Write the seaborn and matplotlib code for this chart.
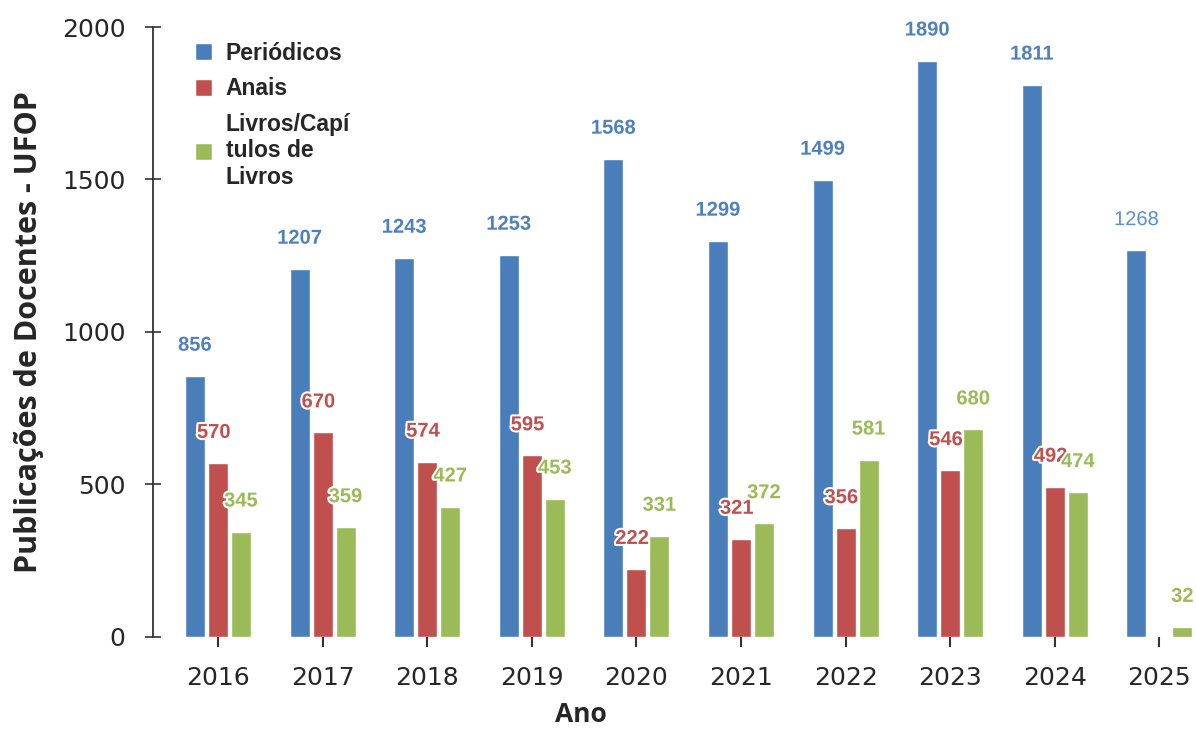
import numpy as np
import pandas as pd
import matplotlib.pyplot as plt
import matplotlib.patheffects as pe
import seaborn as sns

anos = ['2016', '2017', '2018', '2019', '2020', '2021', '2022', '2023', '2024', '2025']
periodicos = [856, 1207, 1243, 1253, 1568, 1299, 1499, 1890, 1811, 1268]
anais = [570, 670, 574, 595, 222, 321, 356, 546, 492, 0]
livros = [345, 359, 427, 453, 331, 372, 581, 680, 474, 32]

series = ['Periódicos', 'Anais', 'Livros/Capítulos de Livros']
legenda = ['Periódicos', 'Anais', 'Livros/Capí\ntulos de\nLivros']
cores = ['#4a7ebb', '#c0504d', '#9bbb59']
cores_txt = ['#4f81bd', '#c0504d', '#9bbb59']

df = pd.DataFrame({
    'Ano': anos * 3,
    'Tipo': [series[0]] * 10 + [series[1]] * 10 + [series[2]] * 10,
    'Valor': periodicos + anais + livros,
})

sns.set_style('white')
plt.rcParams['font.family'] = ['Liberation Sans', 'DejaVu Sans']

fig = plt.figure(figsize=(11.96, 7.31), dpi=100)
ax = fig.add_axes([0.128, 0.129, 0.872, 0.834])

sns.barplot(data=df, x='Ano', y='Valor', hue='Tipo', hue_order=series,
            palette=cores, saturation=1, width=0.66, gap=0.13, ax=ax, legend=True)

# rótulos de valor acima das barras
for i, cont in enumerate(ax.containers):
    for j, bar in enumerate(cont):
        v = bar.get_height()
        if v == 0:
            continue
        cx = bar.get_x() + bar.get_width() / 2
        peso = 'bold'
        cor = cores_txt[i]
        dx = -3 if i == 1 else 0
        if i == 0 and anos[j] == '2025':
            peso = 'normal'
            cor = '#5b8fcc'
        ax.annotate(str(int(v)), (cx, v), xytext=(dx, 22), textcoords='offset points',
                    ha='center', va='center', fontsize=14.5, fontweight=peso, color=cor,
                    path_effects=[pe.withStroke(linewidth=3, foreground='white')],
                    zorder=5, annotation_clip=False)

ax.set_ylim(0, 2000)
ax.set_xlim(-0.62, 9.35)
ax.set_yticks([0, 500, 1000, 1500, 2000])

for s in ['top', 'right', 'bottom']:
    ax.spines[s].set_visible(False)
ax.spines['left'].set_color('#333333')
ax.spines['left'].set_linewidth(1.3)

ax.tick_params(axis='y', direction='inout', length=12, width=1.2, color='#333333',
               labelsize=18, pad=14, left=True)
ax.tick_params(axis='x', direction='out', length=7, width=1.5, color='#333333',
               labelsize=18, pad=14, bottom=True)
for lab in ax.get_yticklabels() + ax.get_xticklabels():
    lab.set_family(['DejaVu Sans'])

ax.set_xlabel('Ano', fontsize=19, fontweight='bold', family=['Open Sans', 'DejaVu Sans'])
ax.set_ylabel('Publicações de Docentes - UFOP', fontsize=22, fontweight='bold',
              family=['Open Sans', 'DejaVu Sans'])
ax.xaxis.set_label_coords(0.41, -0.105)
ax.yaxis.set_label_coords(-0.105, 0.50)

handles, _ = ax.get_legend_handles_labels()
ax.legend(handles, legenda, loc='upper left', bbox_to_anchor=(0.02, 1.01), frameon=False,
          prop={'weight': 'bold', 'size': 16.5}, handlelength=0.75, handleheight=0.75,
          handletextpad=0.6, labelspacing=0.55)

fig.savefig('out.png', dpi=100)
